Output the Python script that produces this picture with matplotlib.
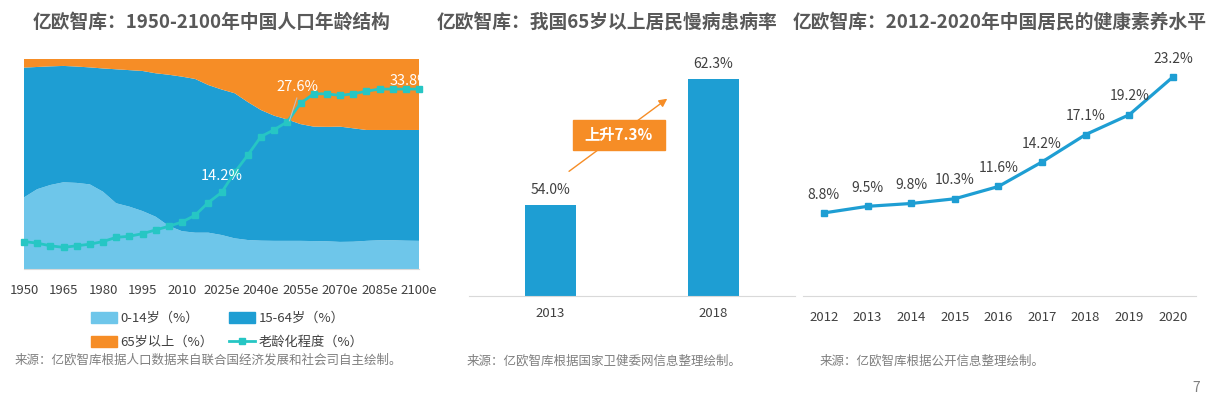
import matplotlib

matplotlib.use("Agg")
import matplotlib.pyplot as plt  # noqa: E402
import numpy as np  # noqa: E402
from matplotlib.patches import Rectangle  # noqa: E402

plt.rcParams["font.family"] = ["Noto Sans CJK SC", "DejaVu Sans"]

LIGHT = "#6EC6EA"
BLUE = "#1E9ED3"
ORANGE = "#F68D26"
TEAL = "#26C6C4"
TITLE = "#595959"
TEXT = "#404040"
GREY = "#7F7F7F"
AXIS = "#D9D9D9"

# chart 1: population age structure (%), 1950-2100 every 5 years
years = np.arange(1950, 2101, 5)
age_0_14 = [34.1, 38.0, 40.0, 41.3, 41.0, 40.3, 36.8, 31.3, 29.7, 27.6, 24.9,
            20.5, 18.0, 17.3, 17.3, 16.2, 14.6, 13.8, 13.5, 13.4, 13.4, 13.4,
            13.3, 13.2, 12.9, 13.0, 13.4, 13.7, 13.7, 13.5, 13.4]
age_65_plus = [4.1, 3.8, 3.5, 3.3, 3.6, 4.0, 4.5, 4.9, 5.3, 5.7, 6.8, 7.5,
               8.4, 9.5, 12.4, 14.5, 16.3, 20.5, 24.3, 27.0, 28.8, 31.0, 32.2,
               32.3, 32.2, 33.0, 33.8, 33.8, 33.8, 33.8, 33.8]
aging = [4.9, 4.6, 4.1, 3.8, 4.1, 4.4, 4.9, 5.7, 5.9, 6.4, 7.1, 7.8, 8.6,
         9.9, 12.3, 14.2, 18.0, 21.3, 24.8, 26.1, 27.6, 31.1, 32.9, 32.9,
         32.6, 32.9, 33.4, 33.8, 33.8, 33.8, 33.8]
year_ticks = [1950, 1965, 1980, 1995, 2010, 2025, 2040, 2055, 2070, 2085, 2100]
year_tick_labels = ["1950", "1965", "1980", "1995", "2010", "2025e", "2040e",
                    "2055e", "2070e", "2085e", "2100e"]
aging_labels = {2025: "14.2%", 2050: "27.6%", 2100: "33.8%"}

# chart 2: chronic disease prevalence of residents 65+
disease_years = ["2013", "2018"]
disease_rate = [54.0, 62.3]

# chart 3: health literacy level
literacy_years = [2012, 2013, 2014, 2015, 2016, 2017, 2018, 2019, 2020]
literacy_rate = [8.8, 9.5, 9.8, 10.3, 11.6, 14.2, 17.1, 19.2, 23.2]

W, H = 1212, 397
fig = plt.figure(figsize=(W / 100, H / 100), dpi=100)


def px_axes(x0, y0, x1, y1):
    return fig.add_axes([x0 / W, 1 - y1 / H, (x1 - x0) / W, (y1 - y0) / H])


def title(x, text):
    fig.text(x / W, 1 - 22 / H, text, fontsize=13.5, fontweight="bold",
             color=TITLE, va="center", ha="left")


# ---- chart 1 ----
ax1 = px_axes(24, 59, 419, 269)
age_0_14 = np.array(age_0_14)
age_65_plus = np.array(age_65_plus)
age_15_64 = 100 - age_0_14 - age_65_plus
ax1.stackplot(years, age_0_14, age_15_64, age_65_plus,
              colors=[LIGHT, BLUE, ORANGE], linewidth=0)
ax1.set_xlim(1950, 2100)
ax1.set_ylim(0, 100)
ax1.set_yticks([])
ax1.set_xticks(year_ticks, year_tick_labels)
ax1.tick_params(axis="x", length=0, labelsize=9.5, labelcolor=TEXT, pad=11)
for side in ("top", "left", "right"):
    ax1.spines[side].set_visible(False)
ax1.spines["bottom"].set_color(AXIS)

ax1b = ax1.twinx()
ax1b.plot(years, aging, color=TEAL, linewidth=2, marker="s", markersize=4,
          clip_on=False)
ax1b.set_ylim(-0.3, 39.5)
ax1b.axis("off")
label_pos = {2025: (2025.2, 17.3), 2050: (2054.0, 34.2), 2100: (2096.6, 35.4)}
for yr, lab in aging_labels.items():
    lx, ly = label_pos[yr]
    ax1b.text(lx, ly, lab, color="white", fontsize=10.5, ha="center",
              va="center", clip_on=True)
ax1b.plot([2050.8, 2053.6], [27.8, 32.1], color="#BFBFBF", linewidth=0.8)

handles = [
    Rectangle((0, 0), 1, 1, color=LIGHT),
    Rectangle((0, 0), 1, 1, color=ORANGE),
    Rectangle((0, 0), 1, 1, color=BLUE),
    plt.Line2D([], [], color=TEAL, linewidth=2, marker="s", markersize=4),
]
labels = ["0-14岁（%）", "65岁以上（%）", "15-64岁（%）", "老龄化程度（%）"]
fig.legend(handles, labels, loc="center", bbox_to_anchor=(227 / W, 1 - 330.5 / H),
           ncol=2, frameon=False, fontsize=9.5, labelcolor=TEXT,
           handlelength=2.0, handleheight=0.9, columnspacing=1.15,
           handletextpad=0.25, labelspacing=0.85)
fig.text(15 / W, 1 - 360 / H, "来源：亿欧智库根据人口数据来自联合国经济发展和社会司自主绘制。",
         fontsize=9, color=GREY, va="center")
title(33, "亿欧智库：1950-2100年中国人口年龄结构")

# ---- chart 2 ----
ax2 = px_axes(469, 53, 795, 296)
x2 = np.arange(len(disease_years))
ax2.bar(x2, disease_rate, width=0.31, color=BLUE)
ax2.set_xlim(-0.5, 1.5)
ax2.set_ylim(48, 64)
ax2.set_yticks([])
ax2.set_xticks(x2, disease_years)
ax2.tick_params(axis="x", length=0, labelsize=9.5, labelcolor=TEXT, pad=8)
for side in ("top", "left", "right"):
    ax2.spines[side].set_visible(False)
ax2.spines["bottom"].set_color(AXIS)
for xi, v in zip(x2, disease_rate):
    ax2.text(xi, v + 0.5, f"{v:.1f}%", ha="center", va="bottom", fontsize=10,
             color=TEXT)
ax2.annotate("", xy=(0.73, 61.1), xytext=(0.1, 56.1),
             arrowprops=dict(arrowstyle="-|>", color=ORANGE, lw=1,
                             mutation_scale=12))
ax2.add_patch(Rectangle((0.136, 57.62), 0.568, 1.98, color=ORANGE, zorder=3))
ax2.text(0.42, 58.61, "上升7.3%", ha="center", va="center", color="white",
         fontsize=11, fontweight="bold", zorder=4)
fig.text(467 / W, 1 - 361 / H, "来源：亿欧智库根据国家卫健委网信息整理绘制。",
         fontsize=9, color=GREY, va="center")
title(437, "亿欧智库：我国65岁以上居民慢病患病率")

# ---- chart 3 ----
ax3 = px_axes(803, 60, 1196, 296)
ax3.plot(literacy_years, literacy_rate, color=BLUE, linewidth=2.3, marker="s",
         markersize=5, clip_on=False)
ax3.set_xlim(2011.52, 2020.53)
ax3.set_ylim(0, 25)
ax3.set_yticks([])
ax3.set_xticks(literacy_years, [str(y) for y in literacy_years])
ax3.tick_params(axis="x", length=0, labelsize=9.5, labelcolor=TEXT, pad=11)
for side in ("top", "left", "right"):
    ax3.spines[side].set_visible(False)
ax3.spines["bottom"].set_color(AXIS)
for yr, v in zip(literacy_years, literacy_rate):
    ax3.text(yr, v + 1.2, f"{v}%", ha="center", va="bottom", fontsize=10,
             color=TEXT)
fig.text(820 / W, 1 - 361 / H, "来源：亿欧智库根据公开信息整理绘制。",
         fontsize=9, color=GREY, va="center")
title(793, "亿欧智库：2012-2020年中国居民的健康素养水平")

fig.text(1196 / W, 1 - 388 / H, "7", fontsize=10, color=GREY, va="center",
         ha="center")

fig.savefig("out.png", dpi=100)
